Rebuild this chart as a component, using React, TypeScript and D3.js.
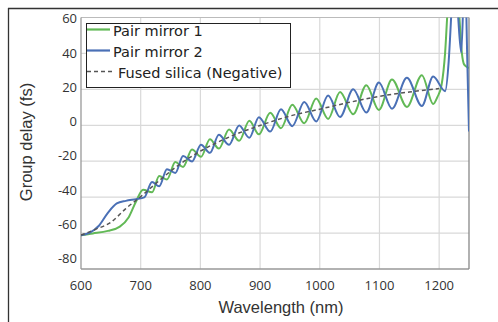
import React from 'react'
import * as d3 from 'd3'

// x axis (nm) and y axis (fs) tick labels
const wavelengthTicks = [600, 700, 800, 900, 1000, 1100, 1200]
const delayTicks = [60, 40, 20, 0, -20, -40, -60, -80]

// Fused silica (negative) reference
const silicaWl = [600, 625, 650, 675, 700, 730, 760, 800, 850, 900, 950, 1000, 1050, 1100, 1150, 1200]
const silicaGd = [-66.5, -63, -59, -51, -44, -35, -26.5, -17.5, -9, -2.5, 3, 7, 11, 14.5, 17, 19]

// Pair mirror 1
const mirror1Wl = [600, 620, 645, 665, 680, 692, 704, 719, 731, 744, 758, 771, 786, 801, 816, 831, 848, 865, 882, 898, 917, 935, 954, 974, 994, 1014, 1034, 1056, 1078, 1099, 1121, 1146, 1171, 1190, 1197, 1204, 1210, 1214, 1224, 1234, 1238, 1242, 1250]
const mirror1Gd = [-66.5, -65.5, -64, -61.5, -56, -47, -40, -41.5, -32, -34, -23.8, -26.7, -16.5, -20.8, -10.5, -16, -4.8, -11.5, 0.3, -7.7, 4.9, -4.1, 9.5, -1.2, 13.2, 1.3, 17, 4, 21, 6.5, 24.3, 8.3, 26.8, 10, 14, 21, 40, 64, 100, 60, 40, 33, 31]

// Pair mirror 2
const mirror2Wl = [600, 615, 630, 645, 660, 675, 692, 706, 719, 731, 744, 758, 771, 786, 801, 816, 831, 848, 865, 882, 898, 917, 935, 954, 974, 994, 1014, 1034, 1056, 1078, 1099, 1121, 1146, 1171, 1190, 1210, 1216, 1220, 1226, 1232, 1237, 1243, 1247.5, 1250]
const mirror2Gd = [-66.5, -65, -61, -53.5, -48, -46.5, -45.5, -44.5, -35.5, -38, -28, -30.2, -20.3, -23.5, -13.8, -18.5, -8, -13.8, -2.5, -9.7, 2.3, -6.1, 6.9, -2.9, 11.2, -0.2, 14.9, 2.4, 18.6, 5, 22.5, 7.3, 25.3, 8.8, 26, 17.5, 35, 60, 100, 60, 40, 90, 30, -6]

const GREEN = '#62b956'
const BLUE = '#4a70b6'
const GRID = '#d9d9d9'
const TICK_FONT = '"Open Sans", Arial, sans-serif'
const TITLE_FONT = '"Liberation Sans", Arial, sans-serif'
const LEGEND_FONT = '"DejaVu Sans", Verdana, sans-serif'

const plot = { left: 81, right: 469, top: 17.5, bottom: 269 }

export default function App() {
  const x = d3.scaleLinear().domain([600, 1250]).range([plot.left, plot.right])
  // label scale: 60 -> 18.5, -80 -> 256.5
  const y = d3.scaleLinear().domain([-80, 60]).range([258.3, 18.3])
  // grid rows are evenly spread over the plot frame
  const gridY = d3.scaleLinear().domain([0, 7]).range([plot.top, plot.bottom])

  const line = d3.line<[number, number]>()
    .x(d => x(d[0]))
    .y(d => y(d[1]))
    .curve(d3.curveMonotoneX)

  const zip = (a: number[], b: number[]) => a.map((v, i) => [v, b[i]] as [number, number])

  const legendRows = [
    { label: 'Pair mirror 1', color: GREEN, dash: undefined as string | undefined },
    { label: 'Pair mirror 2', color: BLUE, dash: undefined },
    { label: 'Fused silica (Negative)', color: '#555', dash: '4,3' },
  ]

  return (
    <svg width={498} height={322} style={{ position: 'absolute', left: 0, top: 0, background: 'white' }}>
      <defs>
        <clipPath id="plotClip">
          <rect x={plot.left} y={plot.top} width={plot.right - plot.left} height={plot.bottom - plot.top} />
        </clipPath>
      </defs>

      {/* outer frame (only top and left edges fall inside the window) */}
      <line x1={8} x2={498} y1={8.5} y2={8.5} stroke="#333" strokeWidth={1.3} />
      <line x1={8.5} x2={8.5} y1={8} y2={322} stroke="#333" strokeWidth={1.3} />

      {/* grid */}
      {d3.range(1, 7).map(i => (
        <line key={'h' + i} x1={plot.left} x2={plot.right} y1={gridY(i)} y2={gridY(i)} stroke={GRID} strokeWidth={1.2} />
      ))}
      {wavelengthTicks.slice(1).map(t => (
        <line key={'v' + t} x1={x(t)} x2={x(t)} y1={plot.top} y2={plot.bottom} stroke={GRID} strokeWidth={1.2} />
      ))}

      {/* plot frame */}
      <line x1={plot.left} x2={plot.right} y1={plot.top} y2={plot.top} stroke="#bbb" />
      <line x1={plot.left} x2={plot.left} y1={plot.top} y2={plot.bottom} stroke="#999" strokeWidth={1.3} />
      <line x1={plot.left} x2={plot.right} y1={plot.bottom} y2={plot.bottom} stroke="#999" strokeWidth={1.3} />
      <line x1={plot.right} x2={plot.right} y1={plot.top} y2={plot.bottom} stroke="#888" strokeWidth={1.3} />

      {/* curves */}
      <g clipPath="url(#plotClip)" fill="none">
        <path d={line(zip(mirror1Wl, mirror1Gd)) || ''} stroke={GREEN} strokeWidth={2} />
        <path d={line(zip(mirror2Wl, mirror2Gd)) || ''} stroke={BLUE} strokeWidth={2} />
        <path d={line(zip(silicaWl, silicaGd)) || ''} stroke="#555" strokeWidth={1.5} strokeDasharray="4,3" />
      </g>

      {/* y ticks */}
      {delayTicks.map(t => (
        <text key={t} x={77} y={y(t)} textAnchor="end" dominantBaseline="central"
          fontFamily={TICK_FONT} fontSize={13} fill="#333">{t}</text>
      ))}
      {/* x ticks */}
      {wavelengthTicks.map(t => (
        <text key={t} x={x(t)} y={285} textAnchor="middle" dominantBaseline="central"
          fontFamily={TICK_FONT} fontSize={13} fill="#333">{t}</text>
      ))}

      {/* axis titles */}
      <text x={281} y={313} textAnchor="middle" fontFamily={TITLE_FONT} fontSize={16.5} fill="#333">Wavelength (nm)</text>
      <text transform="translate(32,142) rotate(-90)" textAnchor="middle" fontFamily={TITLE_FONT} fontSize={16.5} fill="#333">Group delay (fs)</text>

      {/* legend */}
      <rect x={86.5} y={23.5} width={204} height={64} fill="white" stroke="#222" strokeWidth={1} />
      {legendRows.map((r, i) => {
        const ly = 29.5 + i * 21
        return (
          <g key={r.label}>
            <line x1={87} x2={r.dash ? 113 : 110} y1={ly} y2={ly} stroke={r.color}
              strokeWidth={r.dash ? 1.3 : 2.2} strokeDasharray={r.dash} />
            <text x={r.dash ? 118 : 113} y={ly + 1.5} dominantBaseline="central"
              fontFamily={LEGEND_FONT} fontSize={14.5} fill="#222">{r.label}</text>
          </g>
        )
      })}
    </svg>
  )
}
